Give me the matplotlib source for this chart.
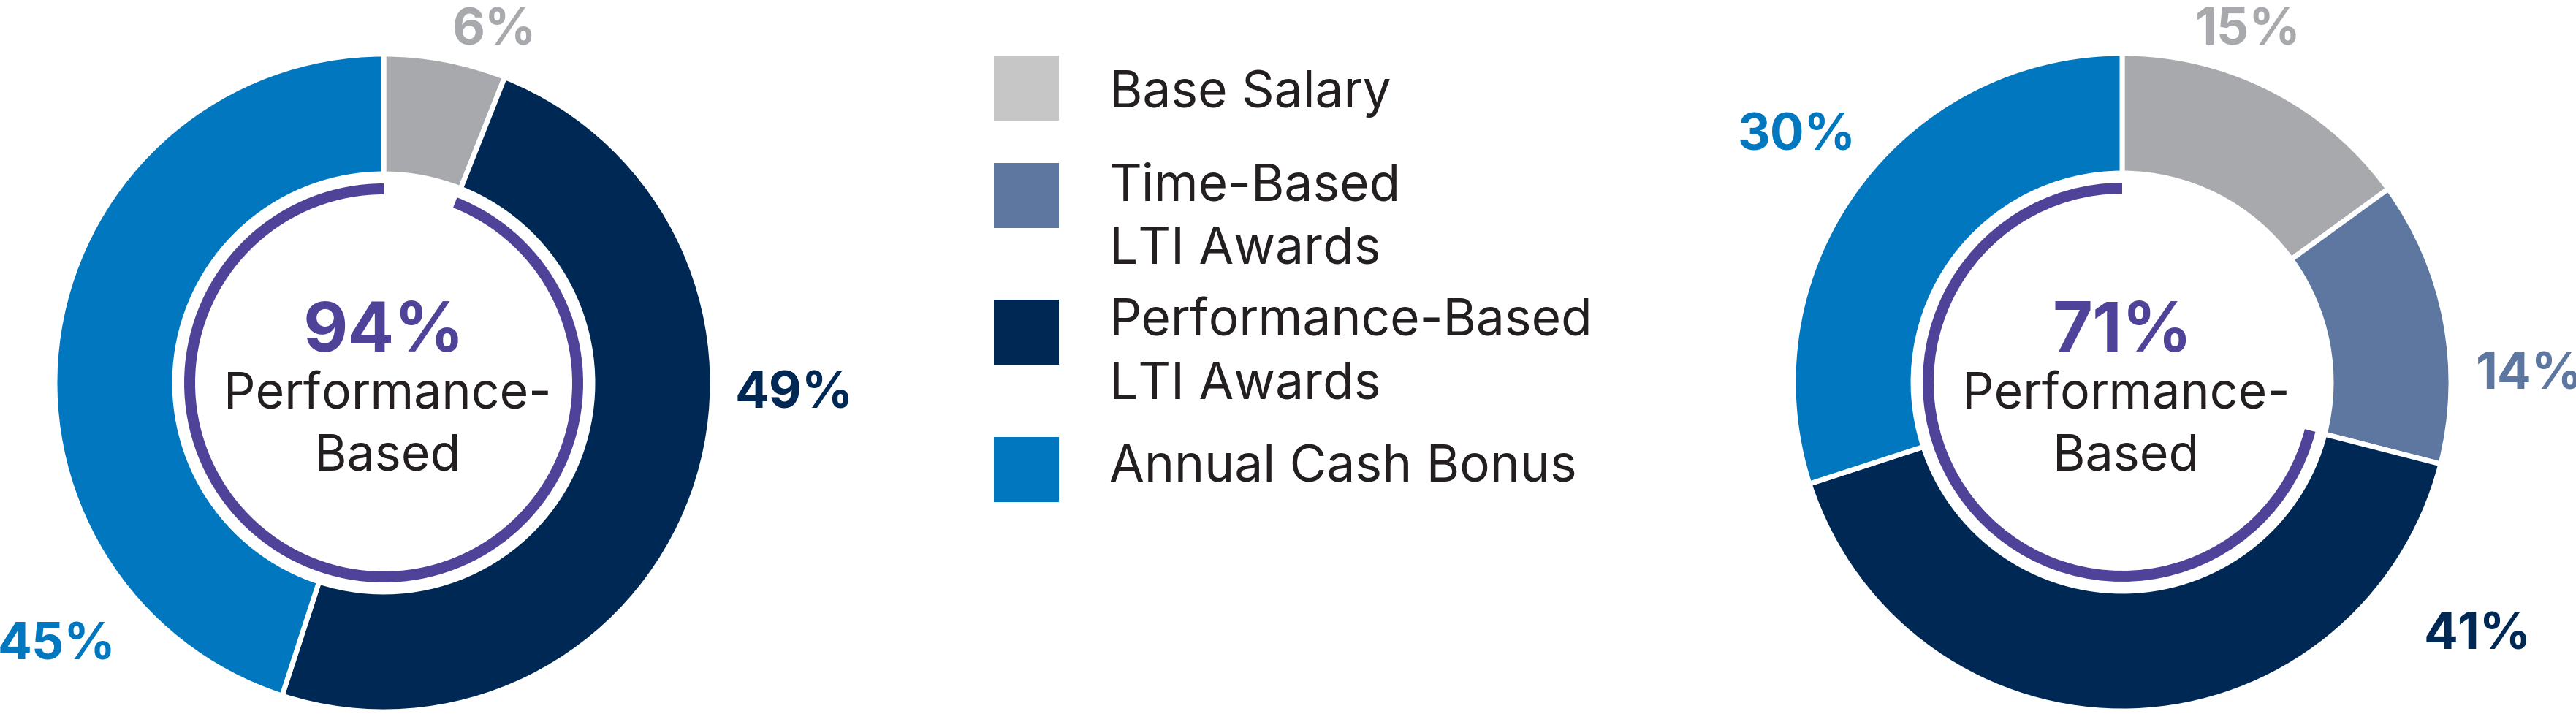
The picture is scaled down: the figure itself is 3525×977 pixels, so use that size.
import matplotlib
matplotlib.use('Agg')
import matplotlib.pyplot as plt
from matplotlib.patches import Wedge, Rectangle

plt.rcParams['font.family'] = ['Inter', 'DejaVu Sans']

# ── data ──────────────────────────────────────────────────────────────────────
categories = ['Base Salary', 'Time-Based\nLTI Awards',
              'Performance-Based\nLTI Awards', 'Annual Cash Bonus']
wedge_colors = ['#a7a9ac', '#5e77a0', '#002855', '#0077be']
legend_colors = ['#c6c6c6', '#5e77a0', '#002855', '#0077be']

left_values = [6, 0, 49, 45]      # no time-based awards in the left mix
right_values = [15, 14, 41, 30]
left_perf = 94
right_perf = 71

PURPLE = '#4e4399'
TEXT = '#231f20'
W, H = 3525, 978

# ── layout (pixel coords, origin top-left) ────────────────────────────────────
R_OUT, RING_W = 450, 164
ARC_R, ARC_W = 273, 15
left_c = (525, 525)
right_c = (2904, 524)
left_lbl = [(677, 62, 'center'), None, (1087, 559, 'center'), (77, 903, 'center')]
right_lbl = [(3076, 62, 'center'), (3388, 533, 'left'),
             (3390, 889, 'center'), (2459, 206, 'center')]
leg_x, leg_sq = 1360, 89
leg_tops = [77, 224, 411, 599]
leg_base = [147, 275, 460, 660]

fig = plt.figure(figsize=(W / 100, H / 100), dpi=100)
ax = fig.add_axes([0, 0, 1, 1])


def flip(y):
    return H - y


def donut(center, values, perf, labels):
    cx, cy = center[0], flip(center[1])
    vals = [v for v in values if v > 0]
    cols = [c for v, c in zip(values, wedge_colors) if v > 0]
    ax.pie(vals, colors=cols, startangle=90, counterclock=False,
           center=(cx, cy), radius=R_OUT,
           wedgeprops=dict(width=RING_W, edgecolor='white', linewidth=5))
    # purple arc covering the performance-based share
    start = 90 - 360 * (100 - perf) / 100
    ax.add_patch(Wedge((cx, cy), ARC_R, -270, start, width=ARC_W,
                       facecolor=PURPLE, edgecolor='none'))
    for v, col, pos in zip(values, wedge_colors, labels):
        if v <= 0 or pos is None:
            continue
        ax.text(pos[0], flip(pos[1]), f'{v}%', color=col, fontsize=50,
                fontweight='bold', ha=pos[2], va='baseline')
    ax.text(cx, flip(481), f'{perf}%', color=PURPLE, fontsize=68,
            fontweight='bold', ha='center', va='baseline')
    ax.text(cx + 5, flip(559), 'Performance-', color=TEXT, fontsize=49,
            ha='center', va='baseline')
    ax.text(cx + 5, flip(644), 'Based', color=TEXT, fontsize=49,
            ha='center', va='baseline')


donut(left_c, left_values, left_perf, left_lbl)
donut(right_c, right_values, right_perf, right_lbl)

# ── legend ────────────────────────────────────────────────────────────────────
for cat, col, top, base in zip(categories, legend_colors, leg_tops, leg_base):
    ax.add_patch(Rectangle((leg_x, flip(top + leg_sq)), leg_sq, leg_sq,
                           facecolor=col, edgecolor='none'))
    ax.text(leg_x + 158, flip(base), cat.split('\n')[0], color=TEXT,
            fontsize=50, ha='left', va='baseline')
    if '\n' in cat:
        ax.text(leg_x + 158, flip(base + 86), cat.split('\n')[1], color=TEXT,
                fontsize=50, ha='left', va='baseline')

ax.set_xlim(0, W)
ax.set_ylim(0, H)
ax.set_aspect('equal')
ax.axis('off')

fig.savefig('out.png', dpi=100, facecolor='white')
